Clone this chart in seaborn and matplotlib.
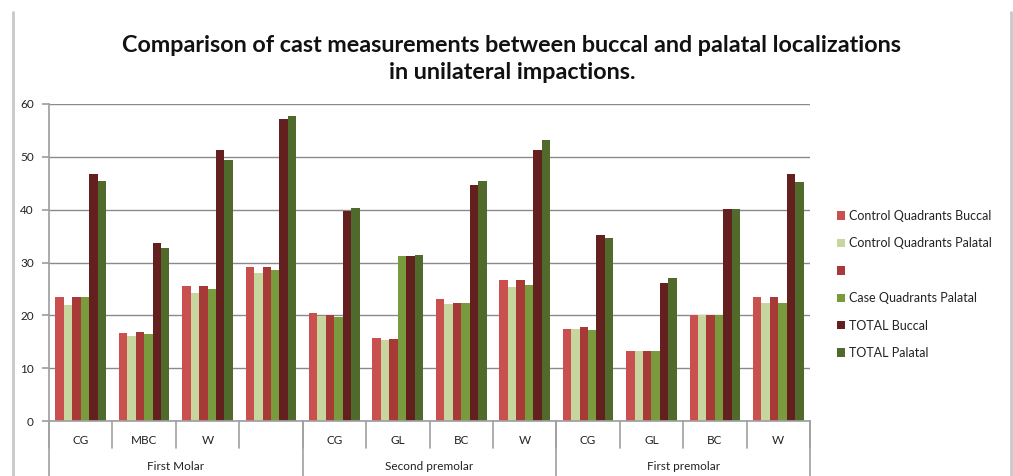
import matplotlib
matplotlib.use("Agg")
import matplotlib.pyplot as plt
import seaborn as sns
import pandas as pd
import numpy as np
from matplotlib.lines import Line2D
from matplotlib.patches import Patch

groups = ["First Molar"] * 4 + ["Second premolar"] * 4 + ["First premolar"] * 4
subcats = ["CG", "MBC", "W", "", "CG", "GL", "BC", "W", "CG", "GL", "BC", "W"]
series = ["Control Quadrants Buccal", "Control Quadrants Palatal", "",
          "Case Quadrants Palatal", "TOTAL Buccal", "TOTAL Palatal"]
control_buccal = [23.4, 16.6, 25.6, 29.2, 20.4, 15.8, 23.0, 26.6, 17.4, 13.2, 20.1, 23.4]
control_palatal = [22.0, 16.0, 24.2, 28.1, 19.9, 15.3, 22.1, 25.4, 17.4, 13.2, 20.1, 22.4]
case_buccal = [23.4, 16.9, 25.6, 29.2, 20.1, 15.6, 22.4, 26.6, 17.7, 13.2, 20.1, 23.4]
case_palatal = [23.4, 16.4, 25.0, 28.6, 19.7, 31.3, 22.4, 25.7, 17.2, 13.2, 20.1, 22.4]
total_buccal = [46.7, 33.6, 51.2, 57.1, 39.7, 31.3, 44.7, 51.2, 35.2, 26.2, 40.1, 46.7]
total_palatal = [45.5, 32.7, 49.4, 57.7, 40.3, 31.5, 45.5, 53.1, 34.7, 27.1, 40.1, 45.2]
colors = ["#C9504F", "#C7D59F", "#A73A36", "#7A9A3E", "#63201E", "#4F6A2A"]
title = "Comparison of cast measurements between buccal and palatal localizations\nin unilateral impactions."

values = [control_buccal, control_palatal, case_buccal, case_palatal, total_buccal, total_palatal]
keys = [f"{i}" for i in range(len(subcats))]
rows = []
for s, vals in zip(series, values):
    for k, v in zip(keys, vals):
        rows.append({"cat": k, "series": s, "value": v})
df = pd.DataFrame(rows)

sns.set_theme(style="white")
plt.rcParams["font.family"] = ["Lato", "DejaVu Sans"]

fig = plt.figure(figsize=(10.13, 4.76), dpi=100)
ax = fig.add_axes([49 / 1013, 1 - 421 / 476, (810 - 49) / 1013, (421 - 104) / 476])

sns.barplot(data=df, x="cat", y="value", hue="series", order=keys, hue_order=series,
            palette=colors, width=0.8, saturation=1, ax=ax, legend=False, errorbar=None,
            linewidth=0)

ax.set_ylim(0, 60)
ax.set_xlim(-0.5, len(keys) - 0.5)
ax.set_yticks([0, 10, 20, 30, 40, 50, 60])
ax.set_xticks([])
ax.set_xlabel("")
ax.set_ylabel("")
ax.yaxis.grid(True, color="#8a8a8a", linewidth=1.0)
ax.set_axisbelow(True)
for sp in ["top", "right"]:
    ax.spines[sp].set_visible(False)
ax.spines["left"].set_color("#a0a0a0")
ax.spines["bottom"].set_color("#a0a0a0")
ax.tick_params(axis="y", direction="out", length=5, color="#a0a0a0", left=True,
               labelsize=8.5, pad=6, labelcolor="#222222")

tr = ax.get_xaxis_transform()
# subcategory labels and separators
for i, lab in enumerate(subcats):
    ax.text(i, -0.06, lab, transform=tr, ha="center", va="center", fontsize=8.5, color="#222222")
for b in range(len(keys) + 1):
    ax.plot([b - 0.5, b - 0.5], [0, -0.085], transform=tr, color="#a0a0a0", lw=1.2, clip_on=False)
# group labels
starts = [0, 4, 8, 12]
names = ["First Molar", "Second premolar", "First premolar"]
for gi, nm in enumerate(names):
    c = (starts[gi] + starts[gi + 1] - 1) / 2
    ax.text(c, -0.145, nm, transform=tr, ha="center", va="center", fontsize=8.5, color="#222222")
for s0 in starts:
    ax.plot([s0 - 0.5, s0 - 0.5], [0, -0.18], transform=tr, color="#a0a0a0", lw=1.2, clip_on=False)

handles = [Patch(facecolor=c, edgecolor="none") for c in colors]
leg = fig.legend(handles, series, loc="upper left", bbox_to_anchor=(832 / 1013, 1 - 205 / 476),
                 frameon=False, fontsize=9, handlelength=0.65, handleheight=0.65,
                 handletextpad=0.3, labelspacing=1.23, borderaxespad=0)
for t in leg.get_texts():
    t.set_color("#222222")

fig.text(512 / 1013, 1 - 35 / 476, title, ha="center", va="top", fontsize=16.8,
         fontweight="bold", linespacing=1.35, color="#111111")

fig.add_artist(Line2D([13 / 1013, 13 / 1013], [0, 1 - 12 / 476], transform=fig.transFigure,
                      color="#c8c8c8", lw=2))
fig.add_artist(Line2D([1011 / 1013, 1011 / 1013], [0, 1 - 12 / 476], transform=fig.transFigure,
                      color="#c8c8c8", lw=2))

fig.savefig("out.png", dpi=100)
